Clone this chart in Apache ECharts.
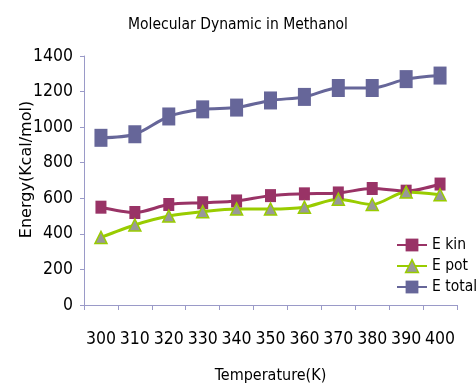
<!DOCTYPE html>
<html>
<head>
<meta charset="utf-8">
<script src="https://cdn.jsdelivr.net/npm/echarts@6/dist/echarts.min.js"></script>
<style>
  html, body { margin: 0; padding: 0; background: #fff; }
  #chart { width: 476px; height: 387px; }
</style>
</head>
<body>
<div id="chart"></div>
<script>
// Temperature steps (K)
const temperatures = ['300', '310', '320', '330', '340', '350', '360', '370', '380', '390', '400'];
// Energies in Kcal/mol
const eKin   = [550, 520, 565, 575, 585, 615, 625, 630, 655, 640, 680];
const ePot   = [380, 450, 500, 525, 540, 540, 550, 595, 565, 635, 620];
const eTotal = [940, 960, 1060, 1100, 1110, 1150, 1170, 1220, 1220, 1270, 1290];
const yTicks = { min: 0, max: 1400, interval: 200 };

const narrow = '"DejaVu Sans Condensed", "Liberation Sans Narrow", "Liberation Sans", sans-serif';
const axisColor = '#9a9ac8';

const potMarker = { color: '#999999', borderColor: '#99cc00', borderWidth: 1.5 };

const chart = echarts.init(document.getElementById('chart'));
chart.setOption({
  animation: false,
  backgroundColor: '#ffffff',
  title: {
    text: 'Molecular Dynamic in Methanol',
    left: 'center',
    top: 12,
    textStyle: { fontFamily: narrow, fontSize: 15.5, fontWeight: 'normal', color: '#000' }
  },
  grid: { left: 84, right: 19, top: 56, bottom: 82, containLabel: false, outerBoundsMode: 'none' },
  legend: {
    orient: 'vertical',
    left: 391,
    top: 232,
    itemGap: 5,
    itemWidth: 30,
    itemHeight: 16,
    textStyle: { fontFamily: narrow, fontSize: 15.5, color: '#000' },
    data: [
      { name: 'E kin' },
      { name: 'E pot', itemStyle: potMarker },
      { name: 'E total' }
    ]
  },
  xAxis: {
    type: 'category',
    data: temperatures,
    boundaryGap: true,
    name: 'Temperature(K)',
    nameLocation: 'middle',
    nameGap: 63,
    nameMoveOverlap: false,
    nameTextStyle: { fontFamily: narrow, fontSize: 16, color: '#000' },
    axisLine: { lineStyle: { color: axisColor, width: 1 } },
    axisTick: { show: true, length: 5, lineStyle: { color: axisColor } },
    axisLabel: { fontFamily: narrow, fontSize: 17.5, color: '#000', margin: 25, interval: 0 },
    splitLine: { show: false }
  },
  yAxis: {
    type: 'value',
    min: yTicks.min,
    max: yTicks.max,
    interval: yTicks.interval,
    name: 'Energy(Kcal/mol)',
    nameLocation: 'middle',
    nameGap: 49,
    nameMoveOverlap: false,
    nameTextStyle: { fontFamily: '"DejaVu Sans", sans-serif', fontSize: 16, color: '#000', padding: [0, 0, 0, 22] },
    axisLine: { show: true, lineStyle: { color: axisColor, width: 1 } },
    axisTick: { show: true, length: 4, lineStyle: { color: axisColor } },
    axisLabel: { fontFamily: narrow, fontSize: 17.5, color: '#000', margin: 11, formatter: v => String(v) },
    splitLine: { show: false }
  },
  series: [
    {
      name: 'E kin',
      type: 'line',
      data: eKin,
      smooth: 0.3,
      symbol: 'rect',
      symbolSize: [11, 13],
      lineStyle: { color: '#993366', width: 3 },
      itemStyle: { color: '#993366' }
    },
    {
      name: 'E pot',
      type: 'line',
      data: ePot,
      smooth: 0.3,
      symbol: 'triangle',
      symbolSize: [12, 12],
      lineStyle: { color: '#99cc00', width: 3 },
      itemStyle: potMarker
    },
    {
      name: 'E total',
      type: 'line',
      data: eTotal,
      smooth: 0.3,
      symbol: 'rect',
      symbolSize: [13, 18],
      lineStyle: { color: '#666699', width: 3 },
      itemStyle: { color: '#666699' }
    }
  ]
});
</script>
</body>
</html>
